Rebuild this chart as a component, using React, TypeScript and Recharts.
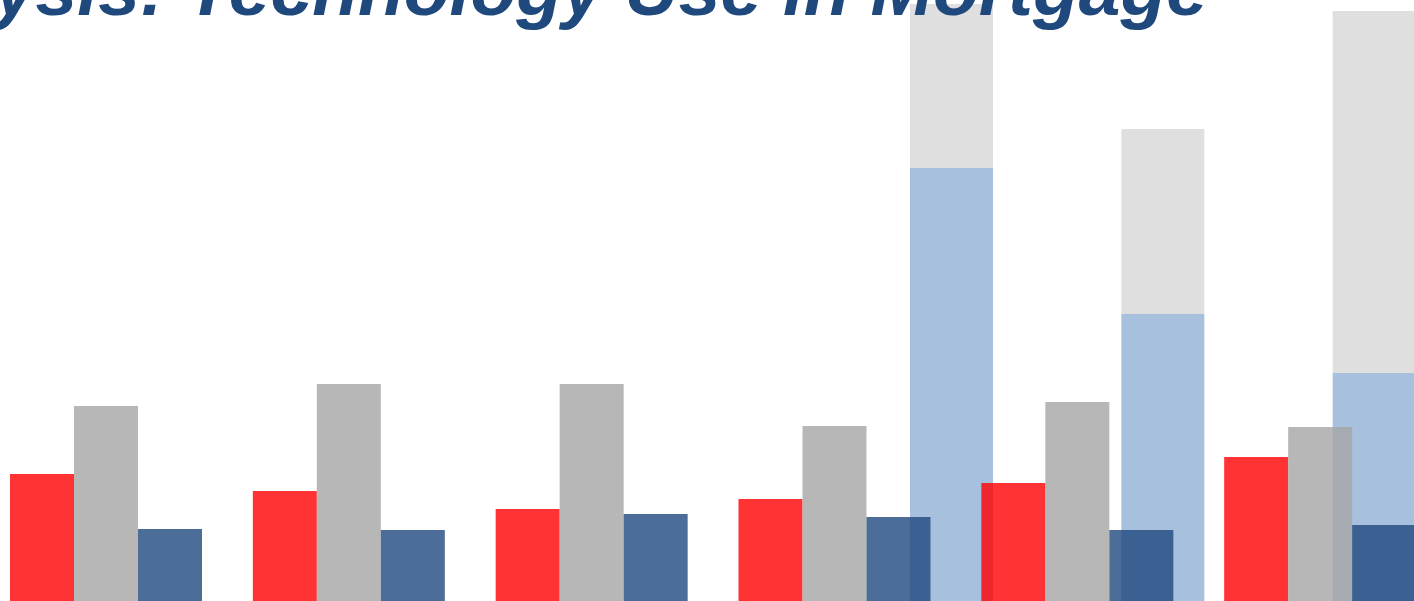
import React from 'react';
import { BarChart, Bar, XAxis, YAxis } from 'recharts';

// Grouped bars (six groups, three series)
const categories = ['G1', 'G2', 'G3', 'G4', 'G5', 'G6'];
const redValues = [41.5, 37.25, 32.75, 35.25, 39.25, 45.75];
const grayValues = [58.5, 64, 64, 53.5, 59.5, 53.25];
const blueValues = [27.75, 27.5, 31.5, 30.75, 27.5, 28.75];

// Translucent stacked overlay bars (three columns)
const overlayCategories = ['O1', 'O2', 'O3'];
const overlayBlueValues = [118, 81.5, 66.75];
const overlayGrayValues = [41, 46.25, 90.5];

const titleText = 'Analysis: Technology Use in Mortgage';

const groupedData = categories.map((c, i) => ({
  name: c,
  red: redValues[i],
  gray: grayValues[i],
  blue: blueValues[i],
}));

const overlayData = overlayCategories.map((c, i) => ({
  name: c,
  lightBlue: overlayBlueValues[i],
  lightGray: overlayGrayValues[i],
}));

const Y_DOMAIN: [number, number] = [0, 160];
const CHART_H = 640;

export default function App() {
  return (
    <div
      style={{
        position: 'absolute',
        left: 0,
        top: 0,
        width: 1414,
        height: 601,
        overflow: 'hidden',
        background: '#ffffff',
      }}
    >
      {/* overlay (behind) */}
      <div style={{ position: 'absolute', left: 846, top: 0 }}>
        <BarChart
          width={634}
          height={CHART_H}
          data={overlayData}
          margin={{ top: 0, right: 0, bottom: 0, left: 0 }}
          barSize={83}
        >
          <XAxis dataKey="name" hide />
          <YAxis hide domain={Y_DOMAIN} allowDataOverflow />
          <Bar dataKey="lightBlue" stackId="o" fill="#4f81bd" fillOpacity={0.5} isAnimationActive={false} />
          <Bar dataKey="lightGray" stackId="o" fill="#bfbfbf" fillOpacity={0.5} isAnimationActive={false} />
        </BarChart>
      </div>
      {/* grouped bars (front) */}
      <div style={{ position: 'absolute', left: -15, top: 0 }}>
        <BarChart
          width={1457}
          height={CHART_H}
          data={groupedData}
          margin={{ top: 0, right: 0, bottom: 0, left: 0 }}
          barSize={64}
          barGap={0}
        >
          <XAxis dataKey="name" hide />
          <YAxis hide domain={Y_DOMAIN} allowDataOverflow />
          <Bar dataKey="red" fill="#ff0000" fillOpacity={0.8} isAnimationActive={false} />
          <Bar dataKey="gray" fill="#a5a5a5" fillOpacity={0.8} isAnimationActive={false} />
          <Bar dataKey="blue" fill="#1f497d" fillOpacity={0.8} isAnimationActive={false} />
        </BarChart>
      </div>
      {/* title */}
      <svg
        width={1414}
        height={60}
        style={{ position: 'absolute', left: 0, top: 0, overflow: 'visible' }}
      >
        <text
          x={1208}
          y={15}
          textAnchor="end"
          fontFamily="'Liberation Sans', Arial, sans-serif"
          fontWeight="bold"
          fontStyle="italic"
          fontSize={75}
          fill="#1f497d"
        >
          {titleText}
        </text>
      </svg>
    </div>
  );
}
